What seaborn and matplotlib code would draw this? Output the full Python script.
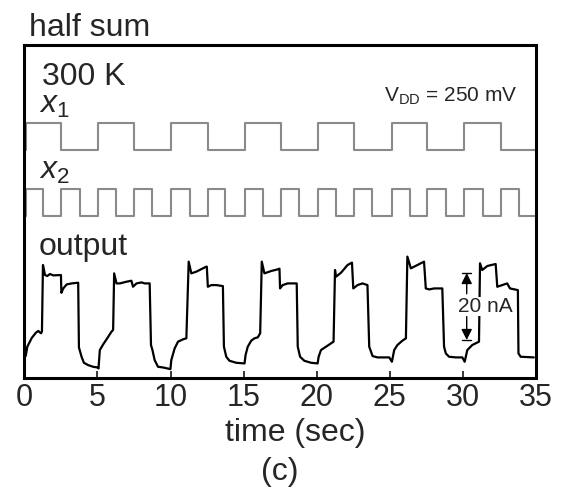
import matplotlib
matplotlib.use("Agg")
import matplotlib.pyplot as plt
import numpy as np
import pandas as pd
import seaborn as sns

# ---------------- data ----------------
# logic inputs: transition times (s); level starts at 0 and toggles at every edge
x1_edges = [0.08, 2.53, 5.05, 7.5, 10.03, 12.53, 15.08, 17.53, 20.08, 22.55,
            25.16, 27.57, 30.07, 32.58]
x2_edges = [0.08, 1.27, 2.53, 3.78, 5.05, 6.28, 7.5, 8.75, 10.03, 11.3, 12.53,
            13.75, 15.08, 16.3, 17.53, 18.78, 20.08, 21.33, 22.55, 23.75, 25.16,
            26.37, 27.57, 28.83, 30.07, 31.37, 32.58, 33.83]

# measured output current (nA, arbitrary offset)
t_out = [0.09, 0.2, 0.5, 0.79, 0.95, 1.13, 1.2, 1.27, 1.41, 1.56, 1.75, 1.97, 2.38, 2.5, 2.53,
         2.66, 2.89, 3.23, 3.68, 3.73, 3.91, 4.07, 4.36, 4.7, 5.0, 5.07, 5.16, 5.39, 5.62, 5.96,
         6.07, 6.14, 6.3, 6.53, 6.98, 7.32, 7.43, 7.67, 8.01, 8.23, 8.57, 8.66, 8.76, 8.91, 9.14,
         9.48, 9.99, 10.05, 10.28, 10.51, 10.85, 11.08, 11.24, 11.42, 11.76, 12.21,
         12.44, 12.48, 12.55, 12.79, 13.13, 13.58, 13.65, 13.81, 14.03, 14.49, 15.06, 15.13,
         15.28, 15.52, 15.74, 15.97, 16.13, 16.24, 16.42, 16.88, 17.33, 17.45, 17.49, 17.67,
         18.01, 18.63,
         18.7, 18.86, 19.15, 19.61, 20.06, 20.13, 20.29, 20.63, 20.98, 21.15, 21.25, 21.32,
         21.66, 22.11, 22.41, 22.5, 22.79, 23.13, 23.47, 23.59, 23.82, 24.16, 24.96,
         25.14, 25.3, 25.52, 25.86, 26.1, 26.2, 26.44, 26.89, 27.34, 27.46, 27.69, 28.03,
         28.59, 28.71, 28.83, 29.05, 29.51, 29.96,
         30.12, 30.3, 30.64, 30.87, 31.1, 31.17, 31.32, 31.67, 32.24, 32.35, 32.69, 33.03,
         33.22, 33.76, 33.8, 33.95, 34.74, 34.85]
i_out = [6.4, 9.2, 11.8, 13.4, 13.9, 13.2, 13.7, 33.6, 30.6, 30.3, 30.9, 30.5, 30.6, 30.6, 25.3,
         26.6, 27.8, 28.1, 28.3, 9.0, 6.2, 4.4, 3.7, 3.2, 3.0, 2.7, 8.2, 9.9, 11.4, 13.7,
         14.2, 31.1, 28.1, 28.1, 28.6, 28.9, 27.1, 28.1, 28.4, 28.1, 28.1, 9.7, 8.2, 5.2, 3.2,
         3.0, 2.5, 5.2, 8.7, 10.7, 11.4, 11.7, 34.6, 31.1, 31.6, 32.6,
         33.1, 33.1, 27.1, 27.6, 27.6, 27.3, 9.2, 6.2, 5.0, 4.4, 4.2, 6.7,
         9.2, 11.0, 11.7, 12.0, 13.2, 34.6, 31.1, 31.8, 32.3, 32.5, 26.6, 27.6,
         28.1, 28.1,
         9.2, 6.2, 5.0, 4.4, 4.2, 6.2, 8.2, 9.2, 10.2, 10.7, 32.1, 30.1,
         31.3, 33.6, 34.3, 26.6, 27.6, 28.1, 27.6, 9.2, 6.4, 6.0, 6.0,
         4.7, 8.2, 9.7, 11.0, 11.7, 36.1, 32.6, 33.6, 34.6, 26.6, 26.3, 26.6,
         26.6, 9.2, 7.2, 6.2, 6.0, 6.0,
         4.7, 8.2, 9.7, 10.2, 10.7, 34.1, 32.1, 33.3, 33.9, 27.1, 27.6, 28.1,
         26.6, 26.1, 7.2, 6.2, 6.0, 6.0]

x_ticks = [0, 5, 10, 15, 20, 25, 30, 35]
scale_bar_nA = 20
t_end = 35

# ---------------- layout constants ----------------
X1_BASE, X2_BASE, LOGIC_H = 68.0, 48.3, 7.9
Y_TOP = 99.3
BAR_T, BAR_LOW = 30.26, 11.2
FS = 23

sns.set_style("white")
plt.rcParams["font.family"] = ["Liberation Sans", "DejaVu Sans"]
plt.rcParams["mathtext.fontset"] = "custom"
plt.rcParams["mathtext.rm"] = "Liberation Sans"
plt.rcParams["mathtext.it"] = "Liberation Sans:italic"

fig = plt.figure(figsize=(5.65, 4.95), dpi=100)
W, H = 565, 495
ax = fig.add_axes([24.4 / W, (H - 377.5) / H, (536 - 24.4) / W, (377.5 - 45) / H])


def logic_frame(edges, base, name):
    t = [0.0] + list(edges) + [t_end]
    lvl = [i % 2 for i in range(len(edges) + 1)]
    lvl = lvl + [lvl[-1]]
    return pd.DataFrame({"t": t, "y": [base + LOGIC_H * v for v in lvl], "sig": name})


df1 = logic_frame(x1_edges, X1_BASE, "x1")
df2 = logic_frame(x2_edges, X2_BASE, "x2")
dfo = pd.DataFrame({"t": t_out, "y": i_out})

grey = "#8a8a8a"
sns.lineplot(data=df1, x="t", y="y", ax=ax, color=grey, lw=1.5,
             drawstyle="steps-post", sort=False, estimator=None)
sns.lineplot(data=df2, x="t", y="y", ax=ax, color=grey, lw=1.5,
             drawstyle="steps-post", sort=False, estimator=None)
sns.lineplot(data=dfo, x="t", y="y", ax=ax, color="black", lw=1.6,
             sort=False, estimator=None)

ax.set_xlim(0, t_end)
ax.set_ylim(0, Y_TOP)
ax.set_xticks(x_ticks)
ax.set_xticklabels([str(v) for v in x_ticks])
ax.set_yticks([])
ax.set_ylabel("")
ax.set_xlabel("time (sec)", fontsize=FS, labelpad=2)
ax.xaxis.set_label_coords(0.53, -0.122)
ax.xaxis.label.set_va("top")
ax.tick_params(axis="x", direction="in", length=5, width=1.3, labelsize=FS - 1, pad=4,
               bottom=True)
for s in ax.spines.values():
    s.set_visible(True)
    s.set_linewidth(2.2)
    s.set_color("black")

# scale bar
bar_top = BAR_LOW + scale_bar_nA
cap = 0.3
ax.plot([BAR_T - cap, BAR_T + cap], [bar_top, bar_top], color="black", lw=1)
ax.plot([BAR_T - cap, BAR_T + cap], [BAR_LOW, BAR_LOW], color="black", lw=1)
ap = dict(arrowstyle="-|>", color="black", lw=1, mutation_scale=16, shrinkA=0, shrinkB=0)
ax.annotate("", xy=(BAR_T, bar_top), xytext=(BAR_T, bar_top - 6.2), arrowprops=ap)
ax.annotate("", xy=(BAR_T, BAR_LOW), xytext=(BAR_T, BAR_LOW + 7.0), arrowprops=ap)
ax.text(BAR_T + 1.25, BAR_LOW + scale_bar_nA / 2, f"{scale_bar_nA} nA", fontsize=15,
        ha="center", va="center",
        bbox=dict(facecolor="white", edgecolor="none", pad=0.3))

# labels
ax.text(1.2, 87.5, "300 K", fontsize=FS, ha="left", va="baseline")
ax.text(1.0, 79.0, "$x_1$", fontsize=FS, ha="left", va="baseline")
ax.text(1.0, 59.3, "$x_2$", fontsize=FS, ha="left", va="baseline")
ax.text(1.0, 36.5, "output", fontsize=FS, ha="left", va="baseline")
ax.text(33.7, 82.5, r"V$_{\rm DD}$ = 250 mV", fontsize=15, ha="right", va="baseline")

fig.text(29 / W, 1 - 36 / H, "half sum", fontsize=FS, ha="left", va="baseline")
fig.text(280 / W, 1 - 480 / H, "(c)", fontsize=FS, ha="center", va="baseline")

fig.savefig("out.png", dpi=100)
